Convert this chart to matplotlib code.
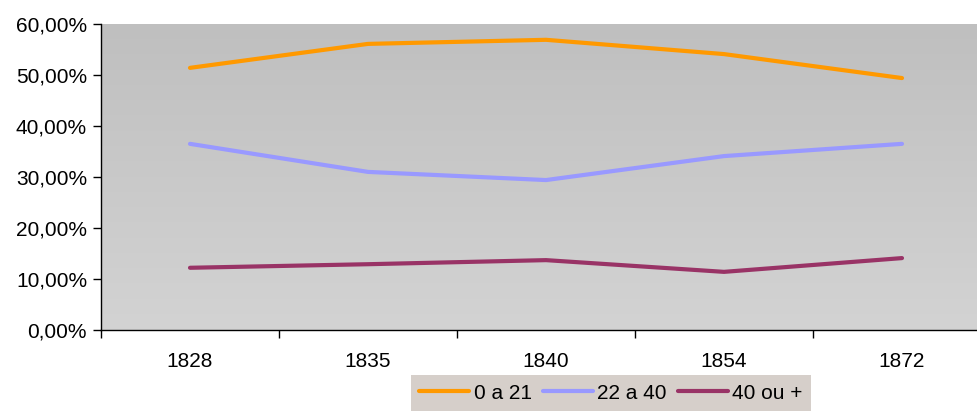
import matplotlib.pyplot as plt
import numpy as np
from matplotlib.ticker import FuncFormatter, FixedLocator

years = ['1828', '1835', '1840', '1854', '1872']
age_0_21 = [51.4, 56.1, 56.9, 54.1, 49.4]
age_22_40 = [36.5, 31.0, 29.4, 34.1, 36.5]
age_40_plus = [12.2, 12.9, 13.7, 11.4, 14.1]

plt.rcParams['font.family'] = ['Liberation Sans', 'DejaVu Sans']

W, H = 977, 411
fig = plt.figure(figsize=(W / 100, H / 100), dpi=100)
# plot area runs past the right edge of the picture, like the original
left, right, top, bottom = 101, 991, 24, 330
ax = fig.add_axes([left / W, 1 - bottom / H, (right - left) / W, (bottom - top) / H])

x = np.arange(len(years))
ax.set_xlim(-0.5, len(years) - 0.5)
ax.set_ylim(0, 60)

# gradient background
grad = np.linspace(0, 1, 256).reshape(-1, 1)
ax.imshow(grad, extent=(-0.5, len(years) - 0.5, 0, 60), aspect='auto',
          cmap=plt.matplotlib.colors.LinearSegmentedColormap.from_list('bg', ['#d3d3d3', '#bfbfbf']),
          origin='lower', zorder=0)

ax.plot(x, age_0_21, color='#FF9900', lw=3, solid_capstyle='round', label='0 a 21', zorder=3)
ax.plot(x, age_22_40, color='#9999FF', lw=3, solid_capstyle='round', label='22 a 40', zorder=3)
ax.plot(x, age_40_plus, color='#993366', lw=3, solid_capstyle='round', label='40 ou +', zorder=3)

ax.set_yticks(np.arange(0, 61, 10))
ax.yaxis.set_major_formatter(FuncFormatter(lambda v, p: f'{v:.2f}%'.replace('.', ',')))
ax.set_xticks(x)
ax.set_xticklabels(years)
ax.xaxis.set_minor_locator(FixedLocator(np.arange(-0.5, len(years), 1.0)))
ax.tick_params(axis='x', which='major', length=0, pad=16, labelsize=15)
ax.tick_params(axis='x', which='minor', length=6, width=1, direction='out')
ax.tick_params(axis='y', length=6, width=1, direction='out', pad=4, labelsize=15)

for s in ['top', 'right']:
    ax.spines[s].set_visible(False)
ax.spines['left'].set_linewidth(1)
ax.spines['bottom'].set_linewidth(1)

leg = fig.legend(loc='lower center', bbox_to_anchor=(611 / W, -0.025), ncol=3,
                 fontsize=15, frameon=True, fancybox=False, handlelength=2.4,
                 handletextpad=0.2, columnspacing=0.55, borderpad=0.4)
leg.get_frame().set_facecolor('#d6cfca')
leg.get_frame().set_edgecolor('none')
leg.get_frame().set_alpha(1)

fig.savefig('out.png', dpi=100)
